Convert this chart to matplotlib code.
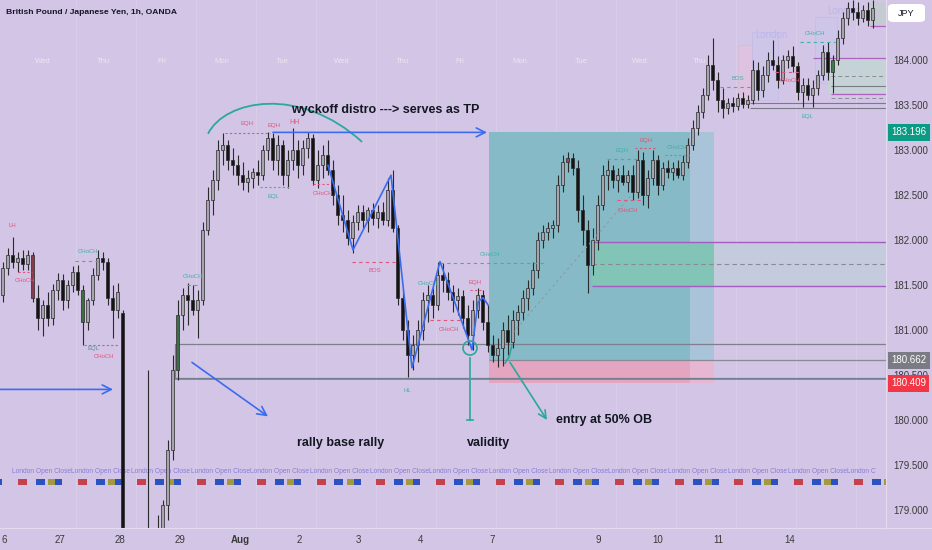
import matplotlib
matplotlib.use("Agg")
import matplotlib.pyplot as plt
import matplotlib.transforms as mtransforms
from matplotlib.patches import Rectangle, Ellipse, FancyBboxPatch, PathPatch
from matplotlib.path import Path
from matplotlib.lines import Line2D

plt.rcParams['font.family'] = ['Liberation Sans', 'DejaVu Sans']

# ---------------- data (2-hour candles, GBP/JPY) ----------------
opens = [181.39, 181.69, 181.83, 181.76, 181.80, 181.73, 181.83, 181.36, 181.13, 181.28,
         181.13, 181.44, 181.56, 181.33, 181.50, 181.64, 181.44, 181.09, 181.33, 181.61,
         181.80, 181.76, 181.36, 181.22, 181.19, 177.78, 177.44, 177.67, 177.78, 178.00,
         178.11, 178.33, 178.78, 179.06, 179.67, 180.56, 181.17, 181.39, 181.33, 181.22,
         181.33, 182.11, 182.44, 182.67, 183.00, 183.06, 182.89, 182.83, 182.72, 182.64,
         182.69, 182.76, 182.72, 183.00, 183.13, 182.89, 183.06, 182.72, 182.89, 183.00,
         182.83, 183.02, 183.13, 182.67, 182.83, 182.94, 182.78, 182.50, 182.28, 182.22,
         182.02, 182.20, 182.31, 182.22, 182.33, 182.24, 182.31, 182.22, 182.56, 182.13,
         181.36, 181.00, 180.72, 180.83, 181.00, 181.33, 181.39, 181.28, 181.61, 181.56,
         181.42, 181.33, 181.38, 181.13, 180.94, 181.22, 181.39, 181.09, 180.83, 180.72,
         180.80, 181.00, 180.87, 181.11, 181.20, 181.36, 181.47, 181.67, 182.00, 182.09,
         182.13, 182.17, 182.61, 182.87, 182.91, 182.80, 182.33, 182.11, 181.72, 182.00,
         182.39, 182.72, 182.78, 182.67, 182.72, 182.64, 182.72, 182.53, 182.89, 182.50,
         182.69, 182.89, 182.61, 182.80, 182.76, 182.80, 182.72, 182.87, 183.06, 183.24,
         183.42, 183.61, 183.94, 183.78, 183.56, 183.47, 183.52, 183.49, 183.58, 183.51,
         183.56, 183.89, 183.67, 183.83, 184.00, 183.94, 183.78, 184.00, 184.04, 183.93,
         183.64, 183.72, 183.61, 183.69, 183.83, 184.09, 183.87, 184.00, 184.24, 184.47,
         184.58, 184.53, 184.47, 184.56, 184.44]
highs = [181.76, 181.91, 182.03, 181.87, 181.89, 181.89, 181.87, 181.50, 181.33, 181.42,
         181.51, 181.63, 181.62, 181.56, 181.71, 181.72, 181.50, 181.36, 181.69, 181.89,
         181.87, 181.80, 181.50, 181.52, 181.22, 178.00, 177.89, 178.00, 178.11, 180.56,
         178.44, 178.94, 179.11, 179.78, 180.72, 181.33, 181.47, 181.52, 181.50, 181.44,
         182.20, 182.59, 182.78, 183.11, 183.19, 183.11, 183.02, 182.94, 182.87, 182.78,
         182.80, 182.89, 183.06, 183.20, 183.19, 183.17, 183.11, 183.00, 183.24, 183.11,
         183.11, 183.20, 183.18, 183.00, 183.06, 183.11, 182.89, 182.61, 182.50, 182.33,
         182.28, 182.39, 182.39, 182.37, 182.41, 182.39, 182.42, 182.69, 182.78, 182.17,
         181.44, 181.11, 180.94, 181.11, 181.42, 181.50, 181.47, 181.76, 181.74, 181.64,
         181.50, 181.47, 181.44, 181.28, 181.33, 181.47, 181.44, 181.28, 180.94, 180.91,
         181.09, 181.17, 181.22, 181.28, 181.44, 181.56, 181.76, 182.09, 182.17, 182.20,
         182.22, 182.72, 182.94, 182.98, 182.97, 182.89, 182.50, 182.22, 182.13, 182.50,
         182.83, 182.89, 182.83, 182.80, 182.83, 182.78, 182.83, 183.00, 182.98, 182.78,
         183.00, 182.94, 182.87, 182.89, 182.87, 182.89, 182.94, 183.13, 183.33, 183.50,
         183.69, 184.06, 184.24, 183.87, 183.69, 183.58, 183.59, 183.63, 183.64, 183.61,
         184.00, 183.98, 183.93, 184.09, 184.22, 184.04, 184.06, 184.11, 184.16, 183.98,
         183.80, 183.80, 183.78, 183.89, 184.17, 184.20, 184.06, 184.33, 184.53, 184.64,
         184.67, 184.64, 184.61, 184.64, 184.67]
lows = [181.31, 181.61, 181.69, 181.64, 181.67, 181.67, 181.31, 181.00, 180.93, 181.04,
        181.06, 181.33, 181.22, 181.24, 181.42, 181.39, 180.83, 181.00, 181.28, 181.56,
        181.67, 181.28, 180.91, 181.13, 177.78, 177.11, 177.00, 177.33, 177.44, 177.56,
        177.78, 178.22, 178.67, 178.89, 179.56, 180.44, 181.00, 181.06, 181.17, 180.91,
        181.28, 182.06, 182.28, 182.56, 182.83, 182.78, 182.72, 182.61, 182.56, 182.53,
        182.58, 182.61, 182.67, 182.89, 182.78, 182.72, 182.61, 182.58, 182.78, 182.69,
        182.72, 182.91, 182.61, 182.58, 182.69, 182.72, 182.39, 182.17, 182.09, 181.94,
        181.86, 182.11, 182.13, 182.09, 182.17, 182.13, 182.17, 182.16, 182.09, 181.28,
        180.89, 180.48, 180.56, 180.64, 180.89, 181.09, 181.13, 181.22, 181.42, 181.33,
        181.20, 181.17, 181.02, 180.83, 180.78, 181.13, 181.00, 180.76, 180.64, 180.59,
        180.60, 180.72, 180.80, 180.94, 181.11, 181.22, 181.39, 181.58, 181.91, 182.00,
        182.02, 182.09, 182.53, 182.76, 182.72, 182.20, 181.94, 181.41, 181.61, 181.89,
        182.33, 182.56, 182.58, 182.53, 182.61, 182.53, 182.44, 182.47, 182.39, 182.36,
        182.61, 182.50, 182.56, 182.69, 182.67, 182.69, 182.67, 182.80, 183.00, 183.17,
        183.36, 183.56, 183.67, 183.42, 183.36, 183.40, 183.42, 183.44, 183.47, 183.47,
        183.51, 183.56, 183.59, 183.76, 183.89, 183.69, 183.73, 183.91, 183.87, 183.56,
        183.48, 183.56, 183.48, 183.61, 183.78, 183.78, 183.63, 183.94, 184.18, 184.39,
        184.44, 184.39, 184.42, 184.38, 184.36]
closes = [181.69, 181.83, 181.76, 181.80, 181.73, 181.83, 181.36, 181.13, 181.28, 181.13,
          181.44, 181.56, 181.33, 181.50, 181.64, 181.44, 181.09, 181.33, 181.61, 181.80,
          181.76, 181.36, 181.22, 181.42, 178.00, 177.44, 177.67, 177.78, 178.00, 178.11,
          178.33, 178.78, 179.06, 179.67, 180.56, 181.17, 181.39, 181.33, 181.22, 181.33,
          182.11, 182.44, 182.67, 183.00, 183.06, 182.89, 182.83, 182.72, 182.64, 182.69,
          182.76, 182.72, 183.00, 183.13, 182.89, 183.06, 182.72, 182.89, 183.00, 182.83,
          183.02, 183.13, 182.67, 182.83, 182.94, 182.78, 182.50, 182.28, 182.22, 182.02,
          182.20, 182.31, 182.22, 182.33, 182.24, 182.31, 182.22, 182.56, 182.13, 181.36,
          181.00, 180.72, 180.83, 181.00, 181.33, 181.39, 181.28, 181.61, 181.56, 181.42,
          181.33, 181.38, 181.13, 180.94, 181.22, 181.39, 181.09, 180.83, 180.72, 180.80,
          181.00, 180.87, 181.11, 181.20, 181.36, 181.47, 181.67, 182.00, 182.09, 182.13,
          182.17, 182.61, 182.87, 182.91, 182.80, 182.33, 182.11, 181.72, 182.00, 182.39,
          182.72, 182.78, 182.67, 182.72, 182.64, 182.72, 182.53, 182.89, 182.50, 182.69,
          182.89, 182.61, 182.80, 182.76, 182.80, 182.72, 182.87, 183.06, 183.24, 183.42,
          183.61, 183.94, 183.78, 183.56, 183.47, 183.52, 183.49, 183.58, 183.51, 183.56,
          183.89, 183.67, 183.83, 184.00, 183.94, 183.78, 184.00, 184.04, 183.93, 183.64,
          183.72, 183.61, 183.69, 183.83, 184.09, 183.87, 184.00, 184.24, 184.47, 184.58,
          184.53, 184.47, 184.56, 184.44, 184.58]

highlight_bars = {6: '#8a3a4a', 16: '#3d6e45', 35: '#3d6e45', 113: '#a04458', 166: '#3d7a4c'}

price_ticks = [179.0, 179.5, 180.0, 180.5, 181.0, 181.5, 182.0, 182.5, 183.0, 183.5, 184.0]
date_labels = ["6", "27", "28", "29", "Aug", "2", "3", "4", "7", "9", "10", "11", "14"]
date_pos = [0.25, 11.5, 23.5, 35.5, 47.5, 59.3, 71.1, 83.5, 97.9, 119.1, 131.1, 143.1, 157.5]
weekday_labels = ["Wed", "Thu", "Fri", "Mon", "Tue", "Wed", "Thu", "Fri", "Mon", "Tue", "Wed", "Thu", "Fri"]
weekday_pos = [8.1, 20.1, 31.9, 43.9, 55.9, 67.9, 79.9, 91.5, 103.5, 115.7, 127.5, 139.3, 175.9]

ENTRY, STOP, TARGET = 180.662, 180.409, 183.196
POS_START, POS_NOW, POS_END = 97.3, 137.5, 142.3

# ---------------- style ----------------
BG = '#d3c5e6'
BLUE = '#3a6cf0'
TEAL = '#2aa89c'
PINK = '#e0557c'
LTEAL = '#3fb0a8'

fig = plt.figure(figsize=(9.32, 5.5), dpi=100, facecolor=BG)
ax = fig.add_axes([0, 22 / 550, 886 / 932, 528 / 550])
ax.set_facecolor(BG)
ax.set_xlim(-0.5, 176.7)
ax.set_ylim(178.80, 184.667)

for s in ['top', 'left']:
    ax.spines[s].set_visible(False)
ax.spines['right'].set_color('#e3dbef')
ax.spines['bottom'].set_color('#e3dbef')
ax.spines['right'].set_linewidth(0.8)
ax.spines['bottom'].set_linewidth(0.8)
fig.add_artist(Line2D([0, 1], [22 / 550, 22 / 550], transform=fig.transFigure, color='#e3dbef', lw=0.8))

ax.yaxis.tick_right()
ax.set_yticks(price_ticks)
ax.set_yticklabels([f"{p:.3f}" for p in price_ticks])
ax.tick_params(axis='y', length=0, pad=5, labelsize=7, labelcolor='#3a3a3a')
ax.set_xticks(date_pos)
ax.set_xticklabels(date_labels)
ax.tick_params(axis='x', length=0, pad=5, labelsize=7, labelcolor='#3a3a3a')
for lbl in ax.get_xticklabels():
    if lbl.get_text() == 'Aug':
        lbl.set_fontweight('bold')

# faint session separators and weekday labels
for k in range(15):
    ax.axvline(14.7 + 12 * k, color='white', alpha=0.14, lw=0.8, zorder=0.5)
for lab, x in zip(weekday_labels, weekday_pos):
    ax.text(x, 183.98, lab, color='white', alpha=0.55, fontsize=5.5, ha='center', va='center', zorder=1)

# ---------------- position tool (long) ----------------
ax.add_patch(Rectangle((POS_START, ENTRY), POS_NOW - POS_START, TARGET - ENTRY, fc='#86bac6', ec='none', zorder=1))
ax.add_patch(Rectangle((POS_NOW, ENTRY), POS_END - POS_NOW, TARGET - ENTRY, fc='#a9c3d8', ec='none', zorder=1))
ax.add_patch(Rectangle((POS_START, STOP), POS_NOW - POS_START, ENTRY - STOP, fc='#e3a5c0', ec='none', zorder=1))
ax.add_patch(Rectangle((POS_NOW, STOP), POS_END - POS_NOW, ENTRY - STOP, fc='#e6b6d3', ec='none', zorder=1))

# order block zone 182.0 - 181.5
ob_lo, ob_hi, ob_x = 181.49, 181.98, 117.9
ax.add_patch(Rectangle((ob_x, ob_lo), POS_END - ob_x, ob_hi - ob_lo, fc='#82c4b6', ec='none', zorder=1.2))
ax.add_patch(Rectangle((POS_END, ob_lo), 176.7 - POS_END, ob_hi - ob_lo, fc='#c3cbdc', ec='none', zorder=1.2))
ax.hlines([ob_lo, ob_hi], ob_x, 176.7, color='#a45cc0', lw=1.0, zorder=2)
ax.hlines((ob_lo + ob_hi) / 2, ob_x, 176.7, color='#8a8a96', lw=0.8, linestyles=(0, (4, 3)), zorder=2)

# long horizontal levels
ax.add_patch(Rectangle((34.5, 180.47), 142.2, 0.37, fc='none', ec='#7f7f8c', lw=0.9, zorder=2))
ax.hlines(180.46, 34.5, 176.7, color='#6e7f92', lw=1.1, zorder=2)
ax.hlines(ENTRY, POS_START, 176.7, color='#8a8a96', lw=0.9, zorder=2)

# top-right zones
ax.add_patch(Rectangle((165.1, 183.63), 11.6, 0.39, fc='#c5d3d6', ec='none', zorder=1.2))
ax.hlines([184.02, 183.62], [162.1, 165.6], 176.7, color='#b060c0', lw=0.9, zorder=2)
ax.hlines([183.82, 183.58], 165.6, 176.7, color='#8a8a96', lw=0.7, linestyles=(0, (4, 3)), zorder=2)
ax.hlines([183.71, 183.52, 183.47], [165.6, 149.5, 149.5], 176.7, color='#7a7a88', lw=0.8, zorder=2)
ax.add_patch(Rectangle((173.5, 184.38), 3.2, 0.26, fc='#c6cbd3', ec='none', zorder=1.2))
ax.hlines(184.38, 173.5, 176.7, color='#b060c0', lw=0.9, zorder=2)
ax.add_patch(Rectangle((147.1, 183.56), 2.8, 0.61, fc='#e4c3dc', ec='#d9b8d6', lw=0.6, alpha=0.6, zorder=1))
ax.add_patch(Rectangle((149.9, 183.56), 5.2, 0.75, fc='#ccc8ec', ec='#bdb8e4', lw=0.6, alpha=0.6, zorder=1))
ax.add_patch(Rectangle((162.5, 183.74), 4.4, 0.74, fc='#ccc8ec', ec='#bdb8e4', lw=0.6, alpha=0.6, zorder=1))
ax.text(150.5, 184.28, "London", color='#bcb6ea', fontsize=7, va='center', zorder=1.5)
ax.text(165.0, 184.54, "London", color='#bcb6ea', fontsize=7, va='center', zorder=1.5)

# ---------------- candles ----------------
xs = list(range(len(closes)))
up_fc, dn_fc, edge = '#a6a4ac', '#141414', '#2a2a2a'
body_bottom = [min(o, c) for o, c in zip(opens, closes)]
body_height = [max(abs(c - o), 0.012) for o, c in zip(opens, closes)]
colors = [highlight_bars.get(i, up_fc if c >= o else dn_fc) for i, (o, c) in enumerate(zip(opens, closes))]
ax.vlines(xs, lows, highs, color=edge, lw=0.8, zorder=3)
ax.bar(xs, body_height, bottom=body_bottom, width=0.62, color=colors, edgecolor=edge, linewidth=0.5, zorder=4)

# ---------------- structure labels ----------------
def lvl(y, x0, x1, color, style=(0, (2, 2))):
    ax.hlines(y, x0, x1, color=color, lw=0.8, linestyles=style, zorder=5)

def tag(x, y, s, color):
    ax.text(x, y, s, color=color, fontsize=4.3, ha='center', va='center', zorder=6)

lvl(181.64, 3.1, 5.9, PINK); tag(1.9, 182.16, "LH", PINK); tag(4.5, 181.55, "CHoCH", PINK)
lvl(181.77, 14.5, 19.1, LTEAL, (0, (3, 3))); tag(17.1, 181.87, "CHoCH", LTEAL)
lvl(180.83, 16.3, 23.1, PINK); tag(18.2, 180.79, "EQL", '#5a8fa0'); tag(20.3, 180.71, "CHoCH", PINK)
lvl(181.50, 36.9, 39.5, LTEAL, (0, (3, 3))); tag(38.1, 181.59, "CHoCH", LTEAL)
lvl(183.19, 44.5, 53.5, PINK); tag(48.9, 183.29, "EQH", PINK); tag(54.3, 183.27, "EQH", PINK)
ax.text(58.3, 183.31, "HH", color=PINK, fontsize=5, ha='center', va='center', zorder=6)
lvl(182.59, 51.5, 57.5, LTEAL); tag(54.1, 182.48, "EQL", LTEAL)
lvl(182.62, 62.1, 65.5, PINK); tag(64.1, 182.52, "CHoCH", PINK)
lvl(181.76, 69.9, 78.5, PINK, (0, (3, 3))); tag(74.5, 181.66, "BOS", PINK)
tag(80.9, 180.33, "HL", LTEAL)
tag(85.1, 181.52, "CHoCH", LTEAL)
lvl(181.74, 87.5, 108.5, LTEAL, (0, (3, 3))); tag(97.5, 181.84, "CHoCH", LTEAL)
lvl(181.44, 93.5, 96.1, PINK); tag(94.5, 181.53, "EQH", PINK)
lvl(181.11, 85.5, 92.1, PINK, (0, (3, 3))); tag(89.3, 181.01, "CHoCH", PINK)
ax.plot([102.1, 126.1], [180.97, 182.52], color='#8a9aa5', lw=0.8, ls=(0, (2, 3)), zorder=5)
lvl(182.90, 120.9, 127.5, LTEAL, (0, (3, 3))); tag(123.9, 182.99, "EQH", LTEAL)
lvl(183.02, 126.5, 130.5, PINK); tag(128.7, 183.11, "EQH", PINK)
lvl(182.94, 132.5, 137.5, LTEAL); tag(134.9, 183.03, "CHoCH", LTEAL)
lvl(182.44, 122.9, 128.1, PINK, (0, (3, 3))); tag(125.1, 182.33, "CHoCH", PINK)
lvl(183.70, 143.5, 149.9, LTEAL, (0, (3, 3))); tag(147.1, 183.80, "BOS", LTEAL)
lvl(184.20, 159.5, 166.5, LTEAL, (0, (3, 3))); tag(162.5, 184.29, "CHoCH", LTEAL)
lvl(183.87, 154.5, 159.5, PINK, (0, (3, 3))); tag(157.5, 183.77, "CHoCH", PINK)
tag(160.9, 183.37, "EQL", LTEAL)

# ---------------- hand drawings ----------------
arc = Path([(41.1, 183.18), (44.5, 183.56), (59.5, 183.72), (71.9, 183.09)],
           [Path.MOVETO, Path.CURVE4, Path.CURVE4, Path.CURVE4])
ax.add_patch(PathPatch(arc, fc='none', ec=TEAL, lw=1.3, zorder=7))

arrow_kw = dict(arrowstyle='->', color=BLUE, lw=1.2, mutation_scale=16, shrinkA=0, shrinkB=0)
ax.annotate('', xy=(96.9, TARGET), xytext=(54.1, TARGET), arrowprops=arrow_kw, zorder=7)
ax.annotate('', xy=(22.1, 180.34), xytext=(-0.6, 180.34), arrowprops=arrow_kw, zorder=7)
ax.annotate('', xy=(53.1, 180.04), xytext=(37.9, 180.64), arrowprops=arrow_kw, zorder=7)

ax.plot([65.1, 70.1, 77.7, 81.9, 87.5, 93.9, 95.1, 96.1, 97.1],
        [182.83, 181.89, 182.72, 180.58, 181.76, 180.78, 181.31, 181.36, 181.28],
        color=BLUE, lw=1.2, zorder=7)

ax.add_patch(Ellipse((93.5, 180.80), 2.8, 0.156, fc='none', ec=TEAL, lw=1.2, zorder=7))
ax.plot([93.5, 93.5], [180.69, 180.0], color=TEAL, lw=1.2, zorder=7)
ax.plot([92.9, 94.1], [180.0, 180.0], color=TEAL, lw=1.2, zorder=7)
ax.plot([100.5, 101.3, 101.9], [180.63, 180.70, 180.83], color=TEAL, lw=1.2, zorder=7)
ax.annotate('', xy=(108.9, 180.0), xytext=(101.5, 180.64),
            arrowprops=dict(arrowstyle='->', color=TEAL, lw=1.2, mutation_scale=14, shrinkA=0, shrinkB=0), zorder=7)

txt_kw = dict(fontsize=9, fontweight='bold', color='#131722', va='center', ha='left', zorder=8)
ax.text(57.7, 183.45, "wyckoff distro ---> serves as TP", **txt_kw)
ax.text(58.9, 179.74, "rally base rally", **txt_kw)
ax.text(92.9, 179.74, "validity", **txt_kw)
ax.text(110.7, 180.0, "entry at 50% OB", **txt_kw)

# ---------------- session strip ----------------
n_days = 15
for k in range(-1, n_days):
    b = 3.1 + 11.94 * k
    for off, w, col in [(0, 1.8, '#c4424e'), (3.6, 1.8, '#2c52c2'), (6.0, 1.4, '#a29a3c'), (7.4, 1.4, '#2c52c2')]:
        ax.add_patch(Rectangle((b + off, 179.28), w, 0.07, fc=col, ec='none', zorder=2))
    if k >= 0:
        s = "London Open Close" if k < n_days - 1 else "London C"
        ax.text(b - 1.3, 179.43, s, color='#7a6fd4', fontsize=4.8, alpha=0.85,
                va='center', zorder=2, clip_on=True)

# ---------------- header & price tags ----------------
fig.text(6 / 932, 1 - 12 / 550, "British Pound / Japanese Yen, 1h, OANDA", fontsize=6.1,
         fontweight='bold', color='#131722', va='center', ha='left')
fig.patches.append(FancyBboxPatch((888 / 932, 1 - 22 / 550), 37 / 932, 18 / 550,
                                  boxstyle='round,pad=0,rounding_size=0.006', transform=fig.transFigure,
                                  fc='white', ec='none'))
fig.text(906 / 932, 1 - 13 / 550, "JPY", fontsize=6.5, color='#131722', ha='center', va='center')

trans = mtransforms.blended_transform_factory(ax.transAxes, ax.transData)
for price, col in [(TARGET, '#0b9a83'), (ENTRY, '#7a7b84'), (STOP, '#f23645')]:
    ax.text(1.0 + 5 / 886, price, f"{price:.3f}", transform=trans, fontsize=7, color='white',
            va='center', ha='left', zorder=10, clip_on=False,
            bbox=dict(boxstyle='square,pad=0.35', fc=col, ec='none'))

fig.savefig("out.png", dpi=100, facecolor=BG)
